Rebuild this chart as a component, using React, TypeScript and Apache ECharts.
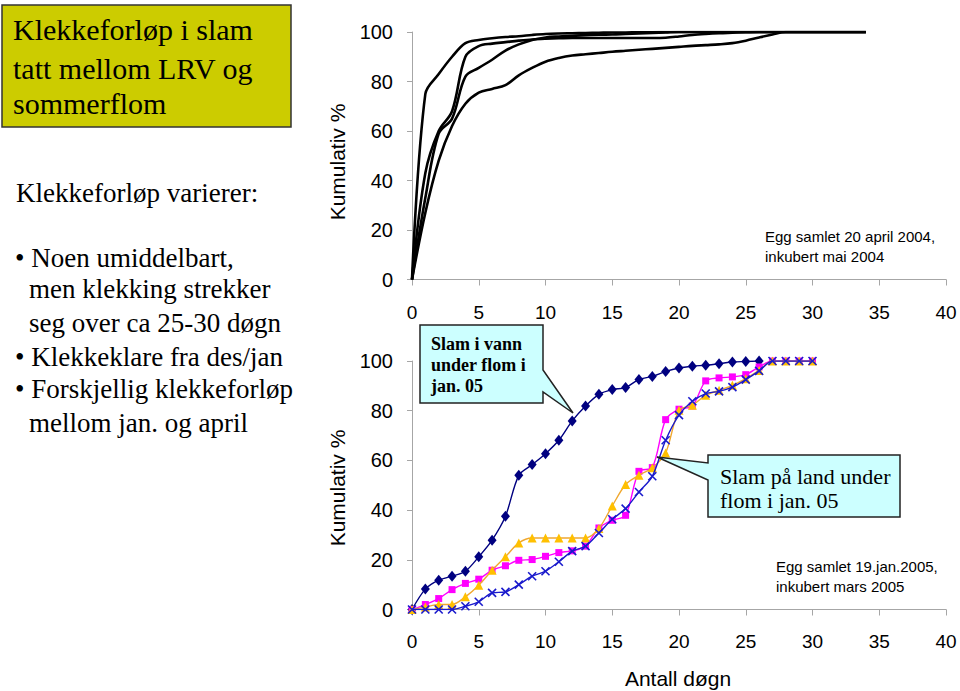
import React, { useEffect, useRef } from "react";
import * as echarts from "echarts";

// ---- Top chart: Egg samlet 20 april 2004, inkubert mai 2004 (cumulative %, by day) ----
const curve2004A = [0, 75, 83, 90, 95.5, 96.8, 97.5, 98, 98.3, 98.8, 99.2, 99.4, 99.5, 99.6, 99.7, 99.8, 99.8, 99.9, 99.9, 100, 100, 100, 100, 100, 100, 100, 100, 100, 100, 100, 100, 100, 100, 100, 100];
const curve2004B = [0, 43, 60, 68, 90, 94.3, 95.3, 95.9, 96.5, 97, 97.3, 97.5, 97.6, 97.6, 97.6, 97.6, 97.6, 97.6, 97.6, 97.7, 98.2, 98.8, 99.2, 99.5, 99.7, 99.9, 100, 100, 100, 100, 100, 100, 100, 100, 100];
const curve2004C = [0, 33, 59, 65, 82, 85.5, 88.8, 92.5, 95, 96.8, 97.8, 98.2, 98.5, 98.7, 98.9, 99, 99.2, 99.4, 99.6, 99.8, 100, 100, 100, 100, 100, 100, 100, 100, 100, 100, 100, 100, 100, 100, 100];
const curve2004D = [0, 27, 48, 62, 71, 75.5, 77, 78.5, 82.5, 85.5, 88, 89.5, 90.5, 91, 91.5, 92, 92.4, 92.8, 93.2, 93.6, 94, 94.4, 94.7, 95, 95.5, 96.5, 97.8, 99, 100, 100, 100, 100, 100, 100, 100];
const curves2004 = [curve2004A, curve2004B, curve2004C, curve2004D];

// ---- Bottom chart: Egg samlet 19.jan.2005, inkubert mars 2005 ----
const slamVann = [0, 8.2, 11.8, 13.4, 15.4, 21.2, 27.9, 37.5, 54, 58.3, 62.7, 68.1, 75.9, 81.9, 86.6, 88.5, 89.3, 92.6, 93.8, 95.8, 97.2, 97.9, 98.3, 98.9, 99.6, 99.8, 100];
const slamLand1 = [0, 2, 4.4, 8, 10.5, 12.2, 15.8, 17.6, 19.8, 20.1, 21.4, 22.9, 23.6, 25.5, 32.8, 35.9, 37.9, 55.6, 57.1, 76.4, 80.6, 81.9, 92, 93.2, 93.6, 94.5, 97.6, 100, 100, 100, 100];
const slamLand2 = [0, 1, 2, 2, 5.1, 9.8, 15.8, 21.2, 26.8, 28.8, 28.8, 28.8, 28.8, 28.8, 32.6, 41.7, 50.3, 54, 57, 63, 80.2, 82.2, 86.2, 88.2, 90.2, 92.9, 96.2, 100, 100, 100, 100];
const slamLand3 = [0, 0, 0, 0, 1.3, 3.1, 6.7, 7.1, 10, 13.4, 15.4, 19.2, 23.5, 25.5, 30.8, 36.3, 40.6, 47.3, 53.6, 68.1, 78.2, 83.8, 86.9, 87.8, 89.5, 92.5, 96, 100, 100, 100, 100];

const xTickStep = 5;
const xMax = 40;
const yTickStep = 20;
const yMax = 100;

const titleLines = ["Klekkeforløp i slam", "tatt mellom LRV og", "sommerflom"];
const bodyLines = [
  "Klekkeforløp varierer:",
  "• Noen umiddelbart,",
  "men klekking strekker",
  "seg over ca 25-30 døgn",
  "• Klekkeklare fra des/jan",
  "• Forskjellig klekkeforløp",
  "mellom jan. og april",
];

const toPairs = (arr: number[]) => arr.map((v, i) => [i, v]);

const SANS = "'Liberation Sans', Arial, sans-serif";
const SERIF = "'Liberation Serif', 'Times New Roman', serif";
const AXIS_GRAY = "#a6a6a6";

function xAxisCfg(gridIndex: number, margin: number) {
  return {
    gridIndex,
    type: "value",
    min: 0,
    max: xMax,
    interval: xTickStep,
    axisLine: { show: true, onZero: false, lineStyle: { color: AXIS_GRAY, width: 1 } },
    axisTick: { show: true, length: 6, lineStyle: { color: AXIS_GRAY } },
    axisLabel: { color: "#000", fontSize: 19, fontFamily: SANS, margin },
    splitLine: { show: false },
  };
}
function yAxisCfg(gridIndex: number) {
  return {
    gridIndex,
    type: "value",
    min: 0,
    max: yMax,
    interval: yTickStep,
    axisLine: { show: true, lineStyle: { color: AXIS_GRAY, width: 1 } },
    axisTick: { show: true, length: 5, lineStyle: { color: AXIS_GRAY } },
    axisLabel: { color: "#000", fontSize: 20, fontFamily: SANS, margin: 19 },
    splitLine: { show: false },
  };
}

export default function App() {
  const ref = useRef<HTMLDivElement>(null);
  useEffect(() => {
    if (!ref.current) return;
    const chart = echarts.init(ref.current, null, { renderer: "svg" });

    const topSeries = curves2004.map((c) => ({
      type: "line",
      xAxisIndex: 0,
      yAxisIndex: 0,
      data: toPairs(c),
      smooth: 0.35,
      showSymbol: false,
      symbol: "none",
      lineStyle: { color: "#000", width: 2.6 },
      silent: true,
    }));

    const bottomDefs = [
      { data: slamVann, color: "#000080", line: "#000080", symbol: "diamond", size: [9, 11] },
      { data: slamLand1, color: "#ff00ff", line: "#ff00ff", symbol: "rect", size: 7 },
      { data: slamLand2, color: "#ffc000", line: "#f0a830", symbol: "triangle", size: 9 },
      { data: slamLand3, color: "#1a1acc", line: "#1a1acc", symbol: "path://M0,0L10,10M10,0L0,10", size: 8 },
    ];
    const bottomSeries = bottomDefs.map((d, i) => ({
      type: "line",
      xAxisIndex: 1,
      yAxisIndex: 1,
      data: toPairs(d.data),
      smooth: 0.3,
      symbol: d.symbol,
      symbolSize: d.size,
      showSymbol: true,
      lineStyle: { color: d.line, width: 1.4 },
      itemStyle:
        i === 3
          ? { color: d.color, borderColor: d.color, borderWidth: 1.6 }
          : { color: d.color },
      silent: true,
      z: 2 + i,
    }));

    const graphics: any[] = [];
    // Title box
    graphics.push({
      type: "rect",
      shape: { x: 2, y: 5, width: 289, height: 122 },
      style: { fill: "#cccc00", stroke: "#333", lineWidth: 1.5 },
    });
    const titleY = [29, 68, 103];
    titleLines.forEach((t, i) =>
      graphics.push({
        type: "text",
        x: 13,
        y: titleY[i],
        style: { text: t, fill: "#000", font: `30px ${SERIF}`, textAlign: "left", textVerticalAlign: "middle" },
      })
    );
    const bodyY = [193, 258, 289, 323, 357, 389, 423];
    const bodyX = [16, 15, 29, 29, 15, 15, 29];
    bodyLines.forEach((t, i) =>
      graphics.push({
        type: "text",
        x: bodyX[i],
        y: bodyY[i],
        style: { text: t, fill: "#000", font: `27px ${SERIF}`, textAlign: "left", textVerticalAlign: "middle" },
      })
    );
    // Y axis titles
    [162, 488].forEach((cy) =>
      graphics.push({
        type: "text",
        x: 337,
        y: cy,
        rotation: Math.PI / 2,
        style: { text: "Kumulativ %", fill: "#000", font: `21px ${SANS}`, textAlign: "center", textVerticalAlign: "middle" },
      })
    );
    // X axis title
    graphics.push({
      type: "text",
      x: 678,
      y: 678,
      style: { text: "Antall døgn", fill: "#000", font: `21px ${SANS}`, textAlign: "center", textVerticalAlign: "middle" },
    });
    // Notes
    [["Egg samlet 20 april 2004,", 765, 236], ["inkubert mai 2004", 765, 256], ["Egg samlet 19.jan.2005,", 776, 566], ["inkubert mars 2005", 776, 586]].forEach(
      ([t, x, y]) =>
        graphics.push({
          type: "text",
          x,
          y,
          style: { text: t, fill: "#000", font: `15px ${SANS}`, textAlign: "left", textVerticalAlign: "middle" },
        })
    );
    // Callout 1
    graphics.push({
      type: "polygon",
      shape: { points: [[420, 325], [543, 325], [543, 370], [573, 413], [543, 392], [543, 403], [420, 403]] },
      style: { fill: "#ccffff", stroke: "#222", lineWidth: 1.5 },
      z: 10,
    });
    ["Slam i vann", "under flom i", "jan. 05"].forEach((t, i) =>
      graphics.push({
        type: "text",
        x: 431,
        y: 344 + i * 21,
        z: 11,
        style: { text: t, fill: "#000", font: `bold 18px ${SERIF}`, textAlign: "left", textVerticalAlign: "middle" },
      })
    );
    // Callout 2
    graphics.push({
      type: "polygon",
      shape: { points: [[708, 455], [900, 455], [900, 517], [708, 517], [708, 480], [657, 457], [708, 463]] },
      style: { fill: "#ccffff", stroke: "#222", lineWidth: 1.5 },
      z: 10,
    });
    ["Slam på land under", "flom i jan. 05"].forEach((t, i) =>
      graphics.push({
        type: "text",
        x: 720,
        y: 476 + i * 24,
        z: 11,
        style: { text: t, fill: "#000", font: `22px ${SERIF}`, textAlign: "left", textVerticalAlign: "middle" },
      })
    );

    chart.setOption({
      animation: false,
      backgroundColor: "#fff",
      grid: [
        { left: 412, top: 32, width: 534, height: 247.5 },
        { left: 412, top: 361, width: 534, height: 248.5 },
      ],
      xAxis: [xAxisCfg(0, 23), xAxisCfg(1, 22)],
      yAxis: [yAxisCfg(0), yAxisCfg(1)],
      series: [...topSeries, ...bottomSeries],
      graphic: graphics,
    });
    return () => chart.dispose();
  }, []);
  return <div ref={ref} style={{ position: "absolute", left: 0, top: 0, width: 960, height: 691 }} />;
}
